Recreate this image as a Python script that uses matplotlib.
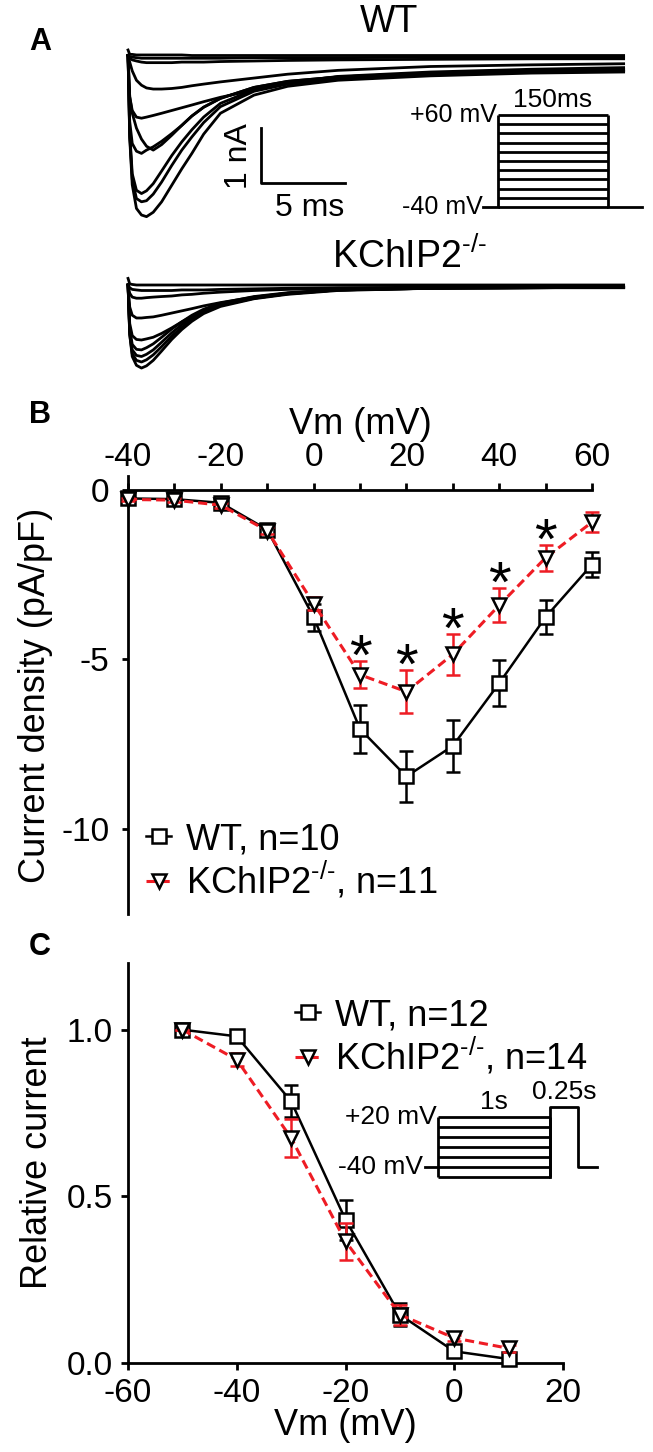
import matplotlib.pyplot as plt

plt.rcParams['font.family'] = ['Liberation Sans', 'DejaVu Sans']
plt.rcParams['mathtext.fontset'] = 'custom'
plt.rcParams['mathtext.rm'] = 'Liberation Sans'
plt.rcParams['mathtext.it'] = 'Liberation Sans:italic'
plt.rcParams['mathtext.bf'] = 'Liberation Sans:bold'
plt.rcParams['axes.unicode_minus'] = False

# ---- panel A: example current traces (ms, nA) ----
t_grid = [0, 0.1, 0.25, 0.5, 0.8, 1.1, 1.5, 2.0, 2.6, 3.2, 3.8, 4.5, 5.5, 7.5, 9.5, 12.5, 18, 24, 29.5]

wt_traces = [
    [0.1, 0.02, 0.02, 0.01, 0.01, 0.01, 0.01, 0.01, 0.01, 0.01, 0.0, 0.0, 0.0, 0.0, 0.0, 0.0, 0.0, 0.0, 0.0],
    [0, -0.02, -0.03, -0.04, -0.05, -0.05, -0.05, -0.05, -0.05, -0.05, -0.05, -0.05, -0.05, -0.04, -0.04, -0.04, -0.03, -0.03, -0.03],
    [0, -0.05, -0.08, -0.1, -0.12, -0.13, -0.13, -0.13, -0.13, -0.12, -0.12, -0.12, -0.11, -0.1, -0.09, -0.08, -0.07, -0.06, -0.06],
    [0, -0.12, -0.28, -0.45, -0.54, -0.59, -0.61, -0.61, -0.6, -0.58, -0.55, -0.52, -0.48, -0.41, -0.34, -0.27, -0.2, -0.17, -0.15],
    [0, -0.75, -1.0, -1.12, -1.14, -1.12, -1.09, -1.05, -1.0, -0.95, -0.9, -0.84, -0.76, -0.63, -0.5, -0.38, -0.3, -0.25, -0.22],
    [0, -0.75, -1.05, -1.32, -1.52, -1.65, -1.72, -1.62, -1.45, -1.27, -1.1, -0.94, -0.78, -0.58, -0.47, -0.39, -0.32, -0.28, -0.26],
    [0, -1.2, -1.6, -1.74, -1.78, -1.72, -1.66, -1.56, -1.42, -1.27, -1.1, -0.94, -0.78, -0.58, -0.47, -0.39, -0.32, -0.28, -0.26],
    [0, -1.4, -2.15, -2.45, -2.51, -2.46, -2.33, -2.1, -1.82, -1.57, -1.35, -1.12, -0.87, -0.62, -0.5, -0.41, -0.34, -0.29, -0.27],
    [0, -1.45, -2.25, -2.6, -2.66, -2.64, -2.52, -2.3, -2.0, -1.72, -1.48, -1.22, -0.93, -0.65, -0.52, -0.43, -0.35, -0.3, -0.28],
    [0, -1.5, -2.35, -2.78, -2.9, -2.93, -2.85, -2.66, -2.36, -2.06, -1.78, -1.43, -1.05, -0.72, -0.56, -0.45, -0.37, -0.32, -0.3],
]

ko_traces = [
    [0.12, 0.02, 0.01, 0.0, 0.0, 0.0, 0.0, 0.0, 0.0, 0.0, 0.0, 0.0, 0.0, 0.0, 0.0, 0.0, 0.0, 0.0, 0.0],
    [0, -0.05, -0.08, -0.09, -0.1, -0.1, -0.1, -0.1, -0.1, -0.09, -0.09, -0.09, -0.08, -0.07, -0.06, -0.05, -0.04, -0.04, -0.04],
    [0, -0.15, -0.22, -0.24, -0.24, -0.23, -0.22, -0.21, -0.2, -0.18, -0.17, -0.15, -0.13, -0.1, -0.08, -0.06, -0.05, -0.04, -0.04],
    [0, -0.4, -0.55, -0.6, -0.6, -0.59, -0.58, -0.55, -0.51, -0.47, -0.43, -0.38, -0.32, -0.22, -0.15, -0.09, -0.06, -0.05, -0.04],
    [0, -0.7, -0.92, -0.99, -1.0, -0.98, -0.95, -0.88, -0.78, -0.67, -0.57, -0.47, -0.37, -0.24, -0.16, -0.09, -0.06, -0.05, -0.04],
    [0, -0.8, -1.08, -1.17, -1.18, -1.14, -1.07, -0.95, -0.8, -0.67, -0.55, -0.44, -0.33, -0.21, -0.14, -0.08, -0.05, -0.04, -0.04],
    [0, -0.85, -1.18, -1.28, -1.3, -1.26, -1.18, -1.04, -0.87, -0.72, -0.59, -0.47, -0.35, -0.22, -0.15, -0.09, -0.05, -0.04, -0.04],
    [0, -0.9, -1.25, -1.37, -1.4, -1.36, -1.27, -1.12, -0.93, -0.77, -0.63, -0.5, -0.37, -0.24, -0.16, -0.09, -0.06, -0.05, -0.04],
    [0, -0.9, -1.3, -1.46, -1.51, -1.47, -1.37, -1.2, -0.99, -0.81, -0.66, -0.52, -0.39, -0.25, -0.17, -0.1, -0.06, -0.05, -0.05],
]

# voltage protocol of panel A (mV, ms)
steps_a = [-40, -30, -20, -10, 0, 10, 20, 30, 40, 50, 60]
hold_a = -40
dur_a = 150

# ---- panel B: I-V relation ----
vm_b = [-40, -30, -20, -10, 0, 10, 20, 30, 40, 50, 60]
wt_b = [-0.25, -0.27, -0.38, -1.17, -3.75, -7.05, -8.45, -7.55, -5.7, -3.75, -2.2]
wt_b_err = [0.05, 0.05, 0.08, 0.12, 0.4, 0.7, 0.76, 0.77, 0.67, 0.5, 0.38]
ko_b = [-0.28, -0.3, -0.45, -1.2, -3.35, -5.45, -5.95, -4.85, -3.4, -2.0, -0.95]
ko_b_err = [0.05, 0.05, 0.08, 0.1, 0.2, 0.4, 0.63, 0.6, 0.5, 0.38, 0.3]
sig_b = [10, 20, 30, 40, 50]

# ---- panel C: steady-state inactivation ----
vm_c = [-50, -40, -30, -20, -10, 0, 10]
wt_c = [1.0, 0.98, 0.785, 0.43, 0.145, 0.035, 0.012]
wt_c_err = [0.0, 0.01, 0.048, 0.06, 0.035, 0.01, 0.01]
ko_c = [1.0, 0.91, 0.675, 0.365, 0.145, 0.075, 0.044]
ko_c_err = [0.0, 0.02, 0.058, 0.055, 0.03, 0.01, 0.01]

# protocol of panel C (mV, s)
steps_c = [-50, -40, -30, -20, -10, 0, 10]
hold_c = -40
test_c = 20
pre_c = 1.0
test_dur_c = 0.25

RED = '#ee1c24'
KO_SUP = r'KChIP2$^{\mathregular{-/-}}$'.replace('-/-', '\u2010/\u2010')
W, H = 653, 1452
fig = plt.figure(figsize=(W / 100, H / 100), dpi=100)


def px_axes(left, top, right, bottom):
    return fig.add_axes([left / W, 1 - bottom / H, (right - left) / W, (bottom - top) / H])


# ---------------- A ----------------
ax_wt = px_axes(123, 39, 635.4, 231.5)
ax_wt.set_xlim(-0.3, 30.2)
ax_wt.set_ylim(-3.2, 0.3)
ax_wt.axis('off')
for tr in wt_traces:
    ax_wt.plot(t_grid, tr, color='black', lw=2.0, clip_on=False)
# scale bar 1 nA / 5 ms
ax_wt.plot([7.9, 7.9, 12.9], [-1.32, -2.32, -2.32], color='black', lw=2.0)
ax_wt.text(6.6, -1.82, '1 nA', rotation=90, ha='center', va='center', fontsize=23)
ax_wt.text(10.8, -2.5, '5 ms', ha='center', va='top', fontsize=23)

ax_ko = px_axes(123, 268.5, 635.4, 378.5)
ax_ko.set_xlim(-0.3, 30.2)
ax_ko.set_ylim(-1.7, 0.3)
ax_ko.axis('off')
for tr in ko_traces:
    ax_ko.plot(t_grid, tr, color='black', lw=2.0, clip_on=False)

fig.text(389 / W, 1 - 22 / H, 'WT', ha='center', va='center', fontsize=27)
fig.text(410 / W, 1 - 257 / H, KO_SUP, ha='center', va='center', fontsize=27)

ax_pa = px_axes(481.9, 105.8, 644.6, 216.2)
ax_pa.set_xlim(-22, 200)
ax_pa.set_ylim(-50, 70)
ax_pa.axis('off')
ax_pa.hlines(steps_a, 0, dur_a, color='black', lw=2)
ax_pa.vlines([0, dur_a], hold_a, max(steps_a), color='black', lw=2)
ax_pa.plot([-20, 0], [hold_a, hold_a], color='black', lw=2)
ax_pa.plot([dur_a, 197], [hold_a, hold_a], color='black', lw=2, clip_on=False)
ax_pa.text(-1.5, max(steps_a), '+60 mV', ha='right', va='center', fontsize=18)
ax_pa.text(-21, hold_a, '-40 mV', ha='right', va='center', fontsize=18)
ax_pa.text(dur_a / 2, max(steps_a) + 3, '150ms', ha='center', va='bottom', fontsize=19)

# ---------------- B ----------------
ax_b = px_axes(128, 476.4, 592, 913.75)
ax_b.set_xlim(-40, 60)
ax_b.set_ylim(-12.5, 0.4)
for s in ['bottom', 'right']:
    ax_b.spines[s].set_visible(False)
ax_b.spines['top'].set_position(('data', 0))
for s in ['top', 'left']:
    ax_b.spines[s].set_linewidth(2)
ax_b.xaxis.tick_top()
ax_b.xaxis.set_label_position('top')
ax_b.set_xticks(range(-40, 61, 20))
ax_b.set_xticks(range(-30, 51, 20), minor=True)
ax_b.set_yticks([-10, -5, 0])
ax_b.tick_params(axis='x', which='both', direction='out', length=5, width=2, labelsize=24, pad=7)
ax_b.tick_params(axis='y', direction='out', length=4.5, width=2, labelsize=24, pad=9)
ax_b.set_xlabel('Vm (mV)', fontsize=26, labelpad=6)
ax_b.set_ylabel('Current density (pA/pF)', fontsize=26, labelpad=6)

wt_line = ax_b.errorbar(vm_b, wt_b, yerr=wt_b_err, color='black', lw=1.8, marker='s', ms=10,
                        mfc='white', mec='black', mew=1.8, capsize=5, capthick=1.8,
                        elinewidth=1.8, clip_on=False, zorder=3)
ko_line = ax_b.errorbar(vm_b, ko_b, yerr=ko_b_err, color=RED, ecolor=RED, lw=2.2, ls='--',
                        dashes=(3, 1.6), marker='v', ms=10, mfc='white', mec='black', mew=1.8,
                        capsize=5, capthick=1.8, elinewidth=1.8, clip_on=False, zorder=4)
for v, m, e in zip(vm_b, ko_b, ko_b_err):
    if v in sig_b:
        ax_b.annotate('*', xy=(v, m + e), xytext=(0, -10), textcoords='offset points',
                      ha='center', va='baseline', fontsize=42)
ax_b.legend([wt_line[0], ko_line[0]],
            ['WT, n=10', KO_SUP + ', n=11'],
            loc='upper left', bbox_to_anchor=(146 / W, 1 - 822 / H), bbox_transform=fig.transFigure,
            frameon=False, fontsize=26, handlelength=0.7, handletextpad=0.4, labelspacing=0.1,
            borderpad=0, borderaxespad=0, numpoints=1)

# ---------------- C ----------------
ax_c = px_axes(128, 963, 563, 1363)
ax_c.set_xlim(-60, 20)
ax_c.set_ylim(0, 1.2)
for s in ['top', 'right']:
    ax_c.spines[s].set_visible(False)
for s in ['bottom', 'left']:
    ax_c.spines[s].set_linewidth(2)
ax_c.set_xticks(range(-60, 21, 20))
ax_c.set_yticks([0, 0.5, 1.0])
ax_c.set_yticklabels(['0.0', '0.5', '1.0'])
ax_c.tick_params(axis='both', direction='out', length=5, width=2, labelsize=24, pad=6)
ax_c.set_xlabel('Vm (mV)', fontsize=26, labelpad=-1)
ax_c.set_ylabel('Relative current', fontsize=26, labelpad=8)

wt_c_line = ax_c.errorbar(vm_c, wt_c, yerr=wt_c_err, color='black', lw=1.8, marker='s', ms=10,
                          mfc='white', mec='black', mew=1.8, capsize=5, capthick=1.8,
                          elinewidth=1.8, clip_on=False, zorder=3)
ko_c_line = ax_c.errorbar(vm_c, ko_c, yerr=ko_c_err, color=RED, ecolor=RED, lw=2.2, ls='--',
                          dashes=(3, 1.6), marker='v', ms=10, mfc='white', mec='black', mew=1.8,
                          capsize=5, capthick=1.8, elinewidth=1.8, clip_on=False, zorder=4)
ax_c.legend([wt_c_line[0], ko_c_line[0]],
            ['WT, n=12', KO_SUP + ', n=14'],
            loc='upper left', bbox_to_anchor=(295 / W, 1 - 998 / H), bbox_transform=fig.transFigure,
            frameon=False, fontsize=26, handlelength=0.7, handletextpad=0.4, labelspacing=0.1,
            borderpad=0, borderaxespad=0, numpoints=1)

ax_pc = px_axes(422.3, 1102, 601.5, 1182)
ax_pc.set_xlim(-0.14, 1.46)
ax_pc.set_ylim(-55, 25)
ax_pc.axis('off')
ax_pc.hlines(steps_c, 0, pre_c, color='black', lw=2)
ax_pc.vlines([0, pre_c], min(steps_c), max(steps_c), color='black', lw=2)
ax_pc.plot([-0.12, 0], [hold_c, hold_c], color='black', lw=2)
ax_pc.plot([pre_c, pre_c, pre_c + test_dur_c, pre_c + test_dur_c, 1.42],
           [min(steps_c), test_c, test_c, hold_c, hold_c], color='black', lw=2, clip_on=False)
ax_pc.text(-0.01, max(steps_c), '+20 mV', ha='right', va='center', fontsize=19)
ax_pc.text(-0.13, hold_c, '-40 mV', ha='right', va='center', fontsize=19)
ax_pc.text(pre_c / 2, max(steps_c) + 3, '1s', ha='center', va='bottom', fontsize=19)
ax_pc.text(pre_c + 0.13, test_c + 3, '0.25s', ha='center', va='bottom', fontsize=19)

# panel letters
for letter, y in [('A', 42), ('B', 415), ('C', 947)]:
    fig.text(40 / W, 1 - y / H, letter, ha='center', va='center', fontsize=22, fontweight='bold')

fig.savefig('out.png', dpi=100)
